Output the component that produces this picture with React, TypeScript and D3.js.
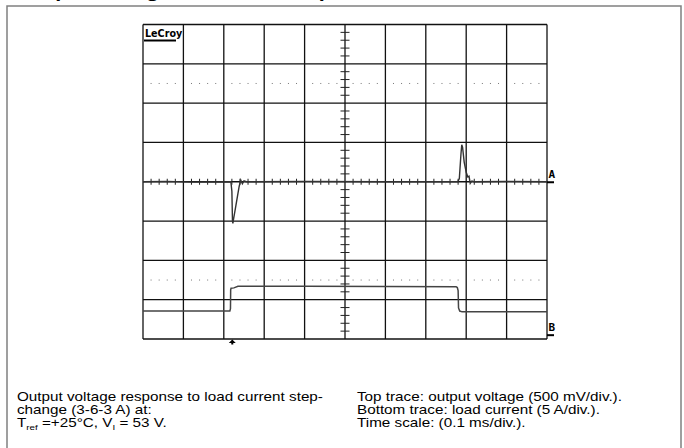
import * as d3 from "d3";
import { useEffect, useRef } from "react";

// top trace: output voltage deviation (mV) vs time (ms)
const voltageTime = [0, 0.06, 0.12, 0.2175, 0.22, 0.2215, 0.2225, 0.224, 0.23, 0.238, 0.242, 0.246, 0.25, 0.256, 0.4, 0.6, 0.779, 0.783, 0.787, 0.789, 0.791, 0.795, 0.8, 0.804, 0.807, 0.81, 0.814, 0.82, 0.9, 1.0];
const voltageMv = [0, 5, -5, 0, -120, -500, -530, -480, -300, -60, 20, -25, 10, 0, 5, 0, 0, 40, 350, 470, 440, 250, 120, 60, 70, -20, 10, 0, 5, 0];

// bottom trace: load current (A) vs time (ms)
const currentTime = [0, 0.1, 0.215, 0.2165, 0.217, 0.218, 0.225, 0.235, 0.4, 0.6, 0.775, 0.778, 0.78, 0.781, 0.784, 0.79, 0.9, 1.0];
const currentA = [3.0, 3.02, 3.0, 3.3, 5.7, 5.9, 5.95, 6.15, 6.15, 6.12, 6.1, 6.0, 5.6, 3.4, 3.0, 2.9, 2.92, 2.9];

const triggerTime = 0.221;
const mvPerDiv = 500;
const ampPerDiv = 5;
const msPerDiv = 0.1;
const groundB = -3.89; // divisions from centre

const noteLeft = ["Output voltage response to load current step-", "change (3-6-3 A) at:"];
const noteRight = ["Top trace: output voltage (500 mV/div.).", "Bottom trace: load current (5 A/div.).", "Time scale: (0.1 ms/div.)."];
const title = "Output Voltage Transient Response";

export default function App() {
  const svgRef = useRef<SVGSVGElement | null>(null);

  useEffect(() => {
    const svg = d3.select(svgRef.current);
    const width = 684;
    const height = 448;
    const grid = { left: 143, right: 547, top: 24.5, bottom: 339 };

    svg.selectAll("*").remove();
    svg.attr("width", width).attr("height", height);

    svg.append("rect").attr("width", width).attr("height", height).attr("fill", "#fff");

    const x = d3.scaleLinear().domain([0, 10 * msPerDiv]).range([grid.left, grid.right]);
    const yDiv = d3.scaleLinear().domain([-4, 4]).range([grid.bottom, grid.top]);
    const yA = (mv: number) => yDiv(mv / mvPerDiv);
    const yB = (a: number) => yDiv(groundB + a / ampPerDiv);

    // page frame and the heading, which sits mostly above the page
    svg
      .append("path")
      .attr("d", `M7,${height} V6 H681 V${height}`)
      .attr("fill", "none")
      .attr("stroke", "#808080")
      .attr("stroke-width", 1.5);

    svg
      .append("text")
      .attr("transform", "translate(18,-2) scale(1.35,1)")
      .attr("font-family", "Liberation Sans, Arial, sans-serif")
      .attr("font-weight", "bold")
      .attr("font-size", 16)
      .attr("fill", "#000")
      .text(title);

    // graticule
    const g = svg.append("g");
    d3.range(0, 11).forEach((i) => {
      g.append("line")
        .attr("x1", x(i * msPerDiv))
        .attr("x2", x(i * msPerDiv))
        .attr("y1", grid.top)
        .attr("y2", grid.bottom)
        .attr("stroke", "#111")
        .attr("stroke-width", 1.3);
    });
    d3.range(-4, 5).forEach((d) => {
      g.append("line")
        .attr("x1", grid.left)
        .attr("x2", grid.right)
        .attr("y1", yDiv(d))
        .attr("y2", yDiv(d))
        .attr("stroke", "#111")
        .attr("stroke-width", 1.3);
    });

    const minorT = d3.range(0, 50).map((i) => i * 0.02).filter((_, i) => i % 5 !== 0);
    const minorD = d3.range(0, 40).map((i) => -4 + i * 0.2).filter((_, i) => i % 5 !== 0);

    // centre axis ticks
    minorD.forEach((d) => {
      g.append("line")
        .attr("x1", x(0.5) - 4.5)
        .attr("x2", x(0.5) + 4.5)
        .attr("y1", yDiv(d))
        .attr("y2", yDiv(d))
        .attr("stroke", "#222")
        .attr("stroke-width", 1);
    });
    minorT.forEach((t) => {
      g.append("line")
        .attr("x1", x(t))
        .attr("x2", x(t))
        .attr("y1", yDiv(0) - 3)
        .attr("y2", yDiv(0) + 3)
        .attr("stroke", "#222")
        .attr("stroke-width", 1);
    });

    // dotted rows
    [2.5, -2.5].forEach((d) => {
      g.selectAll(null)
        .data(minorT)
        .enter()
        .append("rect")
        .attr("x", (t) => x(t) - 0.5)
        .attr("y", yDiv(d) - 0.5)
        .attr("width", 1)
        .attr("height", 1)
        .attr("fill", "#777");
    });

    // LeCroy label
    svg
      .append("text")
      .attr("x", 145)
      .attr("y", 37)
      .attr("font-family", "DejaVu Sans, sans-serif")
      .attr("font-weight", "bold")
      .attr("font-size", 9.6)
      .attr("fill", "#000")
      .text("LeCroy");
    svg
      .append("line")
      .attr("x1", 144)
      .attr("x2", 176)
      .attr("y1", 40.5)
      .attr("y2", 40.5)
      .attr("stroke", "#000")
      .attr("stroke-width", 2);

    // traces
    const vIdx = d3.range(voltageTime.length);
    const lineA = d3
      .line<number>()
      .x((i) => x(voltageTime[i]))
      .y((i) => yA(voltageMv[i]));
    svg
      .append("path")
      .datum(vIdx)
      .attr("fill", "none")
      .attr("stroke", "#333")
      .attr("stroke-width", 1.4)
      .attr("d", lineA);

    const cIdx = d3.range(currentTime.length);
    const lineB = d3
      .line<number>()
      .x((i) => x(currentTime[i]))
      .y((i) => yB(currentA[i]));
    svg
      .append("path")
      .datum(cIdx)
      .attr("fill", "none")
      .attr("stroke", "#444")
      .attr("stroke-width", 1.5)
      .attr("d", lineB);

    // channel markers
    const markers = [
      { label: "A", y: yA(0) },
      { label: "B", y: yB(0) },
    ];
    markers.forEach((m) => {
      svg
        .append("line")
        .attr("x1", grid.right)
        .attr("x2", grid.right + 7)
        .attr("y1", m.y + 0.5)
        .attr("y2", m.y + 0.5)
        .attr("stroke", "#000")
        .attr("stroke-width", 2);
      svg
        .append("text")
        .attr("x", grid.right + 1.5)
        .attr("y", m.y - 4)
        .attr("font-family", "DejaVu Sans Mono, monospace")
        .attr("font-weight", "bold")
        .attr("font-size", 11)
        .attr("fill", "#000")
        .text(m.label);
    });

    // trigger marker
    const tx = x(triggerTime);
    svg
      .append("path")
      .attr("d", `M${tx},${grid.bottom + 0.5} l-3.5,3.5 h2.5 v1.5 h2 v-1.5 h2.5 z`)
      .attr("fill", "#000");

    // notes below
    const font = "Liberation Sans, Arial, sans-serif";
    const lh = 13;
    const fs = 12.5;
    const sx = 1.22;
    const base = 401;
    noteLeft.forEach((s, i) => {
      svg
        .append("text")
        .attr("transform", `translate(17,${base + i * lh}) scale(${sx},1)`)
        .attr("font-family", font)
        .attr("font-size", fs)
        .attr("fill", "#000")
        .text(s);
    });
    const cond = svg
      .append("text")
      .attr("transform", `translate(17,${base + 2 * lh}) scale(${sx},1)`)
      .attr("font-family", font)
      .attr("font-size", fs)
      .attr("fill", "#000");
    cond.append("tspan").text("T");
    cond.append("tspan").attr("font-size", 8).attr("dy", 2.5).text("ref");
    cond.append("tspan").attr("dy", -2.5).text(" =+25°C, V");
    cond.append("tspan").attr("font-size", 8).attr("dy", 2.5).text("I");
    cond.append("tspan").attr("dy", -2.5).text(" = 53 V.");

    noteRight.forEach((s, i) => {
      svg
        .append("text")
        .attr("transform", `translate(357,${base + i * lh}) scale(${sx},1)`)
        .attr("font-family", font)
        .attr("font-size", fs)
        .attr("fill", "#000")
        .text(s);
    });
  }, []);

  return <svg ref={svgRef} style={{ position: "absolute", left: 0, top: 0, display: "block" }}></svg>;
}
